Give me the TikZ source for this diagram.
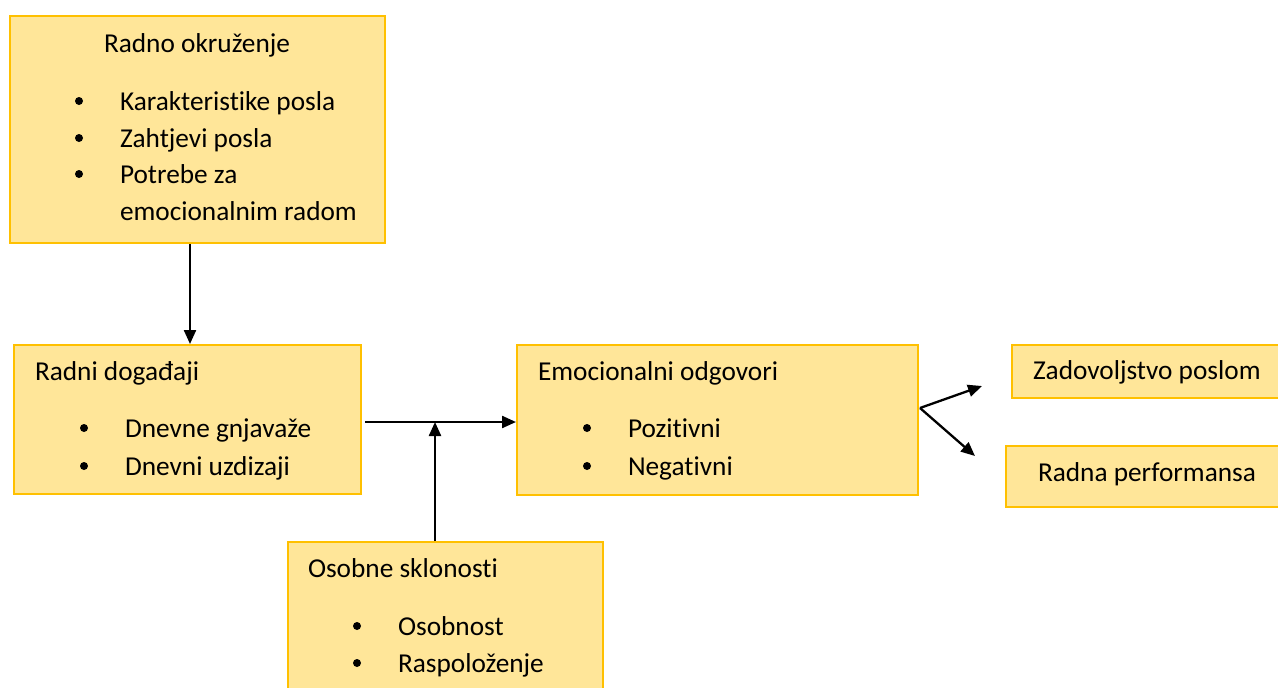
\documentclass[tikz,border=0pt]{standalone}
\usepackage{fontspec}
\setmainfont{Carlito}[Ligatures=NoCommon]
\usepackage{tikz}
\usetikzlibrary{arrows.meta, positioning}
\definecolor{boxfill}{HTML}{FFE699}
\definecolor{boxline}{HTML}{FFC000}

\begin{document}
\begin{tikzpicture}[x=1pt, y=-1pt, >={Triangle[length=14pt, width=12pt]}, line width=2pt]
        \tikzstyle{box} = [rectangle, draw=boxline, fill=boxfill, anchor=north west, inner sep=0pt]
        \tikzstyle{txt} = [anchor=base west, inner sep=0pt, font=\fontsize{27.3}{37}\selectfont]
        \tikzstyle{bullet} = [circle, fill=black, inner sep=0pt, minimum size=8pt]
        \tikzstyle{conn} = [->, draw=black, line width=2.3pt]

        \useasboundingbox (0,0) rectangle (1278,688);

        % boxes
        \node[box, minimum width=375pt, minimum height=227pt](env) at (9,15) {};
        \node[box, minimum width=347pt, minimum height=149pt](events) at (13,344) {};
        \node[box, minimum width=401pt, minimum height=150pt](emo) at (516,344) {};
        \node[box, minimum width=290pt, minimum height=53pt](sat) at (1011,344) {};
        \node[box, minimum width=295pt, minimum height=61pt](perf) at (1005,445) {};
        \node[box, minimum width=315pt, minimum height=170pt](traits) at (287,541) {};

        % texts
        \node[txt](env_title) at (103,52) {Radno okruženje};
        \node[txt](env_1) at (119,110) {Karakteristike posla};
        \node[txt](env_2) at (119,147) {Zahtjevi posla};
        \node[txt](env_3) at (119,183) {Potrebe za};
        \node[txt](env_3b) at (119,220) {emocionalnim radom};
        \node[bullet](env_b1) at (79,101) {};
        \node[bullet](env_b2) at (79,138) {};
        \node[bullet](env_b3) at (79,174) {};

        \node[txt](events_title) at (34,380) {Radni događaji};
        \node[txt](events_1) at (124,437) {Dnevne gnjavaže};
        \node[txt](events_2) at (124,475) {Dnevni uzdizaji};
        \node[bullet](events_b1) at (84,428) {};
        \node[bullet](events_b2) at (84,466) {};

        \node[txt](emo_title) at (537,380) {Emocionalni odgovori};
        \node[txt](emo_1) at (627,437) {Pozitivni};
        \node[txt](emo_2) at (627,475) {Negativni};
        \node[bullet](emo_b1) at (587,428) {};
        \node[bullet](emo_b2) at (587,466) {};

        \node[txt](traits_title) at (307,577) {Osobne sklonosti};
        \node[txt](traits_1) at (397,635) {Osobnost};
        \node[txt](traits_2) at (397,672) {Raspoloženje};
        \node[bullet](traits_b1) at (357,626) {};
        \node[bullet](traits_b2) at (357,663) {};

        \node[txt](sat_text) at (1032,379) {Zadovoljstvo poslom};
        \node[txt](perf_text) at (1037,481) {Radna performansa};

        % connectors
        \coordinate (flow_start) at (365,422);
        \coordinate (join) at (435,422);
        \coordinate (fork) at (920,408);
        \coordinate (to_sat) at (982,386);
        \coordinate (to_perf) at (975,456);

        \draw[conn] (env.south -| 190,0) -- (events.north -| 190,0);
        \draw[conn] (flow_start) -- (emo.west |- flow_start);
        \draw[conn] (traits.north -| join) -- (join);
        \draw[conn] (fork) -- (to_sat);
        \draw[conn] (fork) -- (to_perf);
    \end{tikzpicture}
\end{document}
